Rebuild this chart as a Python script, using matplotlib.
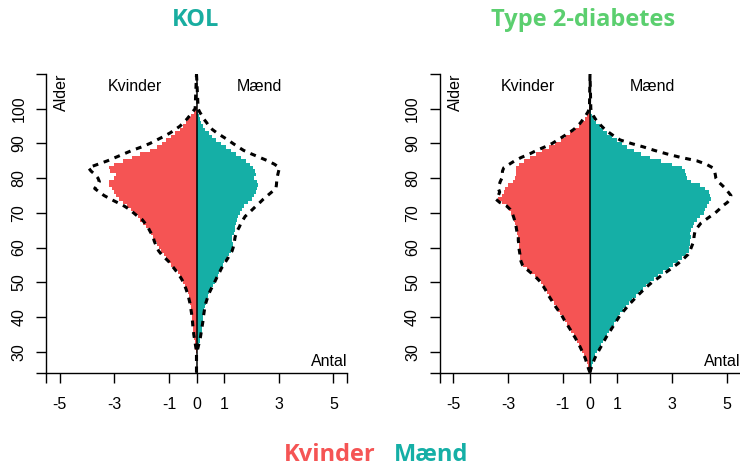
import numpy as np
import matplotlib
matplotlib.use("Agg")
import matplotlib.pyplot as plt

# -----------------------------
# Data
# -----------------------------
AGES = list(range(24, 101))

# KOL - bars (Kvinder / Maend), ages 24..100
kol_women = [0, 0, 0, 0, 0, 0,
             0.02, 0.04, 0.05, 0.07, 0.09, 0.10, 0.11, 0.12, 0.14, 0.15,
             0.16, 0.17, 0.19, 0.21, 0.23, 0.26, 0.28, 0.31, 0.36, 0.42,
             0.49, 0.55, 0.60, 0.68, 0.80, 0.92, 1.02, 1.10, 1.20, 1.30,
             1.38, 1.45, 1.52, 1.58, 1.65, 1.72, 1.85, 1.95, 2.05, 2.15,
             2.28, 2.40, 2.55, 2.70, 2.82, 2.93, 3.00, 3.10, 3.18, 3.18,
             3.00, 2.95, 3.15, 3.18, 3.00, 2.69, 2.35, 2.05, 1.70, 1.45,
             1.25, 1.10, 0.95, 0.80, 0.62, 0.49, 0.38, 0.30, 0.20, 0.10, 0.04]
kol_men = [0, 0, 0, 0, 0, 0,
           0.03, 0.06, 0.09, 0.12, 0.14, 0.17, 0.19, 0.21, 0.22, 0.24,
           0.25, 0.26, 0.28, 0.30, 0.33, 0.37, 0.41, 0.46, 0.52, 0.60,
           0.66, 0.72, 0.78, 0.84, 0.90, 0.96, 1.02, 1.10, 1.18, 1.25,
           1.33, 1.33, 1.30, 1.28, 1.38, 1.40, 1.42, 1.45, 1.48, 1.52,
           1.58, 1.65, 1.75, 1.88, 2.02, 2.10, 2.16, 2.22, 2.25, 2.20,
           2.10, 2.18, 2.15, 2.06, 1.95, 1.80, 1.62, 1.45, 1.25, 1.08,
           0.88, 0.70, 0.55, 0.45, 0.30, 0.22, 0.16, 0.11, 0.08, 0.05, 0.02]
# KOL - dashed outlines
kol_women_ref = [0, 0, 0, 0, 0, 0,
                 0.00, 0.02, 0.04, 0.06, 0.08, 0.10, 0.11, 0.13, 0.14, 0.15,
                 0.17, 0.18, 0.20, 0.22, 0.24, 0.27, 0.30, 0.34, 0.38, 0.43,
                 0.48, 0.55, 0.63, 0.72, 0.82, 0.92, 1.02, 1.15, 1.28, 1.38,
                 1.45, 1.50, 1.55, 1.58, 1.65, 1.72, 1.78, 1.88, 1.98, 2.15,
                 2.30, 2.45, 2.65, 2.90, 3.15, 3.38, 3.55, 3.72, 3.62, 3.55,
                 3.60, 3.70, 3.85, 3.95, 3.60, 3.25, 2.95, 2.65, 2.35, 2.00,
                 1.70, 1.45, 1.20, 0.97, 0.78, 0.60, 0.48, 0.35, 0.25, 0.15, 0.05]
kol_men_ref = [0, 0, 0, 0, 0, 0,
               0.02, 0.05, 0.08, 0.11, 0.14, 0.16, 0.18, 0.20, 0.22, 0.24,
               0.25, 0.27, 0.29, 0.31, 0.34, 0.38, 0.42, 0.47, 0.53, 0.60,
               0.66, 0.72, 0.78, 0.85, 0.91, 0.99, 1.07, 1.15, 1.22, 1.30,
               1.34, 1.37, 1.39, 1.41, 1.45, 1.50, 1.57, 1.62, 1.70, 1.78,
               1.92, 2.05, 2.18, 2.32, 2.45, 2.60, 2.75, 2.90, 2.92, 2.93,
               2.94, 2.97, 3.00, 3.03, 2.85, 2.60, 2.30, 2.00, 1.72, 1.52,
               1.33, 1.15, 0.95, 0.75, 0.58, 0.45, 0.37, 0.27, 0.20, 0.12, 0.06]

# Type 2-diabetes - bars
t2d_women = [0.00, 0.04, 0.08, 0.12, 0.16, 0.22,
             0.28, 0.33, 0.40, 0.46, 0.52, 0.60, 0.68, 0.75, 0.84, 0.92,
             1.00, 1.08, 1.16, 1.25, 1.33, 1.42, 1.50, 1.56, 1.62, 1.70,
             1.80, 1.90, 2.00, 2.15, 2.30, 2.45, 2.52, 2.55, 2.56, 2.58,
             2.60, 2.58, 2.60, 2.62, 2.66, 2.68, 2.70, 2.73, 2.76, 2.80,
             2.88, 2.95, 3.02, 3.20, 3.35, 3.22, 3.15, 3.10, 3.00, 2.80,
             2.75, 2.72, 2.72, 2.70, 2.60, 2.42, 2.20, 1.99, 1.75, 1.50,
             1.28, 1.07, 0.90, 0.72, 0.55, 0.42, 0.30, 0.20, 0.12, 0.06, 0.02]
t2d_men = [0.00, 0.03, 0.07, 0.11, 0.15, 0.20,
           0.26, 0.33, 0.40, 0.47, 0.54, 0.62, 0.70, 0.78, 0.86, 0.94,
           1.02, 1.10, 1.20, 1.30, 1.42, 1.55, 1.68, 1.80, 1.92, 2.05,
           2.18, 2.33, 2.50, 2.68, 2.88, 3.05, 3.22, 3.35, 3.50, 3.60,
           3.62, 3.65, 3.67, 3.68, 3.67, 3.70, 3.75, 3.80, 3.90, 4.02,
           4.15, 4.22, 4.28, 4.35, 4.42, 4.40, 4.34, 4.20, 4.03, 3.70,
           3.55, 3.50, 3.48, 3.36, 3.00, 2.60, 2.20, 1.85, 1.60, 1.36,
           1.18, 1.00, 0.80, 0.63, 0.48, 0.36, 0.22, 0.15, 0.08, 0.04, 0.02]
# Type 2-diabetes - dashed outlines
t2d_women_ref = [0.00, 0.05, 0.09, 0.13, 0.17, 0.22,
                 0.28, 0.34, 0.40, 0.47, 0.54, 0.62, 0.69, 0.77, 0.85, 0.93,
                 1.00, 1.08, 1.17, 1.26, 1.34, 1.42, 1.50, 1.57, 1.64, 1.72,
                 1.80, 1.92, 2.05, 2.20, 2.35, 2.47, 2.52, 2.56, 2.56, 2.58,
                 2.60, 2.60, 2.62, 2.62, 2.65, 2.68, 2.70, 2.72, 2.76, 2.80,
                 2.85, 2.92, 3.05, 3.30, 3.45, 3.35, 3.30, 3.35, 3.32, 3.28,
                 3.22, 3.20, 3.20, 3.15, 2.95, 2.75, 2.50, 2.20, 1.95, 1.65,
                 1.38, 1.18, 0.98, 0.78, 0.60, 0.45, 0.34, 0.25, 0.16, 0.08, 0.02]
t2d_men_ref = [0.00, 0.03, 0.08, 0.12, 0.17, 0.23,
               0.30, 0.37, 0.44, 0.51, 0.58, 0.66, 0.74, 0.82, 0.90, 0.98,
               1.06, 1.15, 1.26, 1.37, 1.48, 1.60, 1.72, 1.85, 1.98, 2.12,
               2.27, 2.45, 2.62, 2.80, 2.98, 3.15, 3.32, 3.45, 3.58, 3.65,
               3.70, 3.75, 3.80, 3.80, 3.82, 3.85, 3.95, 4.05, 4.22, 4.40,
               4.58, 4.72, 4.85, 5.02, 5.12, 5.15, 5.05, 4.95, 4.82, 4.68,
               4.60, 4.58, 4.55, 4.48, 4.25, 3.90, 3.30, 2.80, 2.35, 1.95,
               1.50, 1.10, 0.90, 0.72, 0.55, 0.42, 0.30, 0.20, 0.12, 0.06, 0.03]

XTICKS = [-5.5, -5, -3, -1, 0, 1, 3, 5, 5.5]
XTICKLABELS = ["", "-5", "-3", "-1", "0", "1", "3", "5", ""]
YTICKS = [24, 30, 40, 50, 60, 70, 80, 90, 100, 110]
YTICKLABELS = ["", "30", "40", "50", "60", "70", "80", "90", "100", ""]
XLIM = (-5.5, 5.5)
YLIM = (24, 110)

RED = "#F55454"
TEAL = "#15AFA6"
FS = 11.5

plt.rcParams["font.family"] = ["Liberation Sans", "DejaVu Sans"]

W, H = 740, 467
fig = plt.figure(figsize=(W / 100, H / 100), dpi=100)


def px_axes(left, right, top, bottom):
    return fig.add_axes([left / W, 1 - bottom / H, (right - left) / W, (bottom - top) / H])


def draw_panel(ax, women, men, women_ref, men_ref):
    ages = np.array(AGES)
    ax.barh(ages, -np.array(women), height=1.0, color=RED, linewidth=0)
    ax.barh(ages, np.array(men), height=1.0, color=TEAL, linewidth=0)
    ax.axvline(0, color="black", lw=1.1, zorder=3)
    ya = np.r_[YLIM[0], ages, YLIM[1]]
    dash = dict(color="black", lw=2.2, ls=(0, (1.9, 1.9)), zorder=4)
    ax.plot(np.r_[0, -np.array(women_ref), 0], ya, **dash)
    ax.plot(np.r_[0, np.array(men_ref), 0], ya, **dash)

    ax.set_xlim(*XLIM)
    ax.set_ylim(*YLIM)
    ax.set_xticks(XTICKS)
    ax.set_xticklabels(XTICKLABELS)
    ax.set_yticks(YTICKS)
    ax.set_yticklabels(YTICKLABELS, rotation=90, va="center")
    for s in ["top", "right"]:
        ax.spines[s].set_visible(False)
    for s in ["left", "bottom"]:
        ax.spines[s].set_linewidth(1.0)
        ax.spines[s].set_color("black")
    ax.tick_params(axis="x", length=7.2, width=1.0, pad=10.5, labelsize=FS)
    ax.tick_params(axis="y", length=7.0, width=1.0, pad=7, labelsize=FS)
    ax.patch.set_alpha(0)

    ax.text(-4.93, 110, "Alder", rotation=90, ha="center", va="top", fontsize=FS)
    ax.text(-2.26, 106.4, "Kvinder", ha="center", va="center", fontsize=FS)
    ax.text(2.3, 106.4, "Mænd", ha="center", va="center", fontsize=FS)
    ax.text(5.5, 27.1, "Antal", ha="right", va="center", fontsize=FS)


ax1 = px_axes(46, 347, 74, 372.5)
draw_panel(ax1, kol_women, kol_men, kol_women_ref, kol_men_ref)
ax2 = px_axes(439.5, 740.5, 74, 372.5)
draw_panel(ax2, t2d_women, t2d_men, t2d_women_ref, t2d_men_ref)

title_font = dict(family=["Open Sans", "DejaVu Sans"], weight="bold", fontsize=17)
fig.text(196 / W, 1 - 20 / H, "KOL", color="#19ADA0", ha="center", va="center", **title_font)
fig.text(583 / W, 1 - 20 / H, "Type 2-diabetes", color="#5BCF6F", ha="center", va="center", **title_font)
fig.text(376 / W, 1 - 455 / H, "Kvinder", color=RED, ha="right", va="center", **title_font)
fig.text(394 / W, 1 - 455 / H, "Mænd", color=TEAL, ha="left", va="center", **title_font)

fig.savefig("out.png", dpi=100)
